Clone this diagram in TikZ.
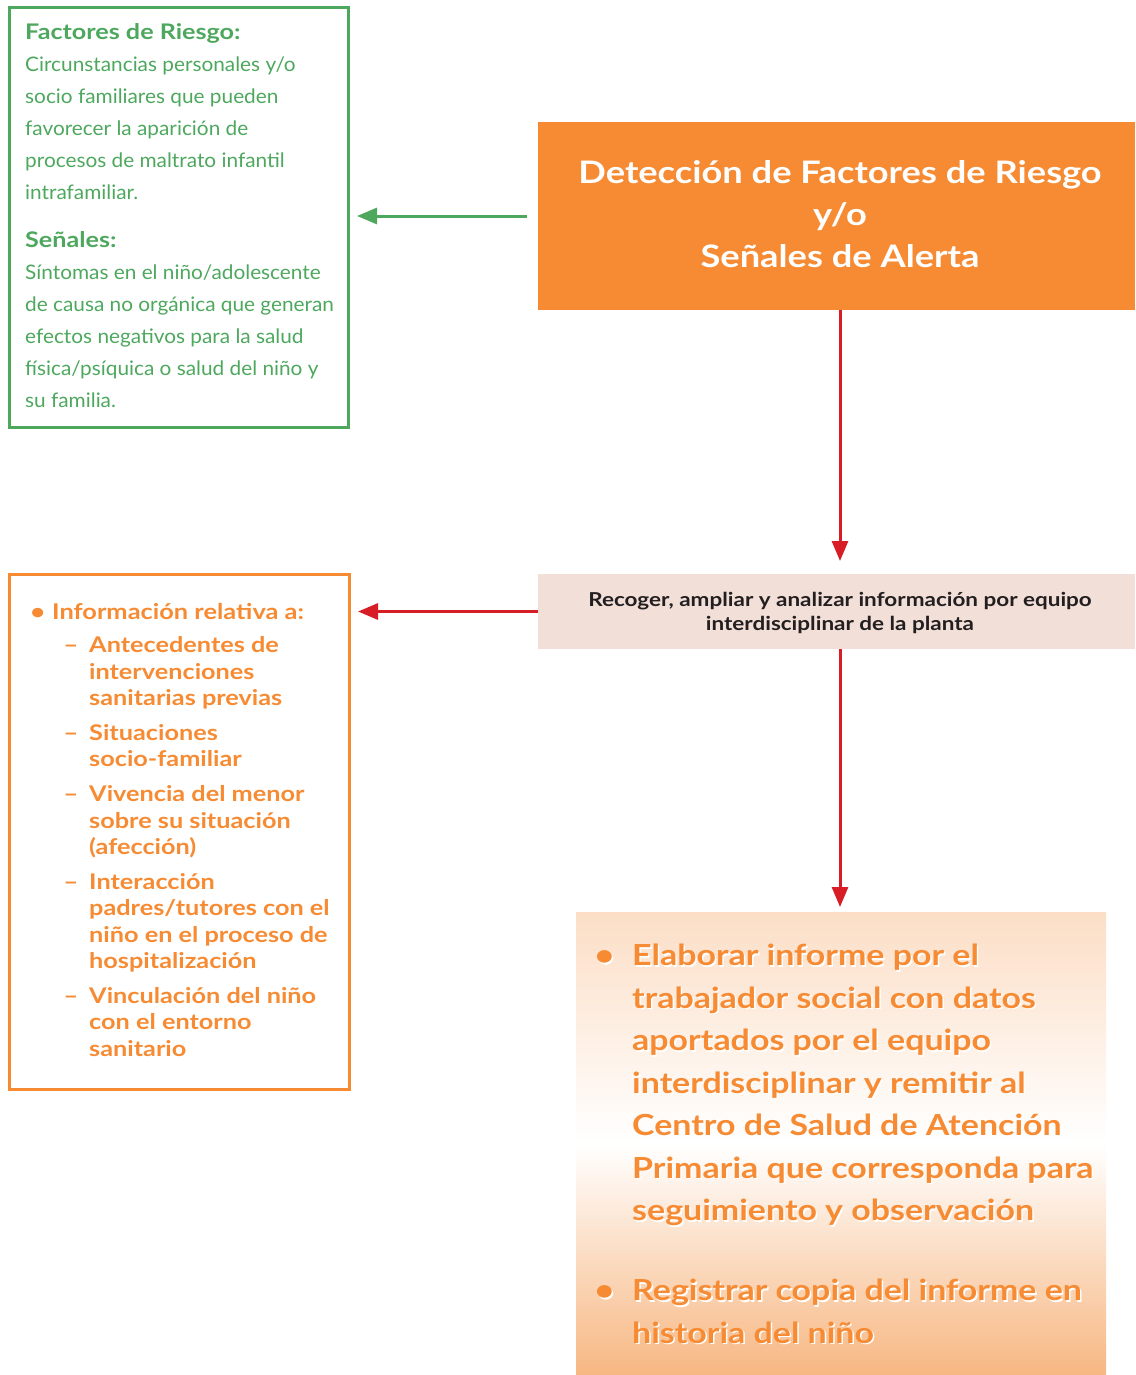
\documentclass[tikz,border=0pt]{standalone}
\usepackage{fontspec}
\setmainfont{Lato}[FakeStretch=1.04, BoldFeatures={FakeStretch=1.17}]
\usetikzlibrary{arrows.meta}
\definecolor{mygreen}{RGB}{77,168,94}
\definecolor{myorange}{RGB}{246,139,51}
\definecolor{myred}{RGB}{215,30,38}
\definecolor{mypink}{RGB}{241,223,216}
\definecolor{mydark}{RGB}{35,31,32}
\definecolor{peachtop}{RGB}{252,222,198}
\definecolor{peachbot}{RGB}{247,183,130}
\newcommand\reportbody{\llap{•\hspace{18pt}}Elaborar informe por el\\trabajador social con datos\\aportados por el equipo\\interdisciplinar y remitir al\\Centro de Salud de Atención\\Primaria que corresponda para\\seguimiento y observación\\[37.5pt]\llap{•\hspace{18pt}}Registrar copia del informe en\\historia del niño}
\newcommand\headfont{\fontsize{21.5}{32}\selectfont\bfseries}
\tikzset{
  box/.style={rectangle, inner sep=0pt, outer sep=0pt, anchor=north west},
  arr/.style={line width=3pt, -{Triangle[length=20pt,width=16pt]}},
  txt/.style={inner sep=0pt, anchor=base west, align=left},
}
\begin{document}
\begin{tikzpicture}[x=1pt,y=-1pt]
\useasboundingbox (0,0) rectangle (1135,1375);
% boxes
\node[box, draw=mygreen, line width=3pt, minimum width=339pt, minimum height=419pt] (risk) at (9,8) {};
\node[box, fill=myorange, minimum width=597pt, minimum height=188pt] (detect) at (538,122) {};
\node[box, fill=mypink, minimum width=597pt, minimum height=75pt] (collect) at (538,574) {};
\node[box, draw=myorange, line width=3pt, minimum width=340pt, minimum height=515pt] (info) at (9,574) {};
\node[box, top color=peachtop, bottom color=peachbot, middle color=white, minimum width=530pt, minimum height=463pt] (report) at (576,912) {};
\coordinate (axis) at (840,0);
% texts (base anchor = baseline of last line)
\node[txt, text=mygreen, font=\fontsize{20}{32}\selectfont] (risktext) at (25,407)
{{\headfont Factores de Riesgo:}\\Circunstancias personales y/o\\socio familiares que pueden\\favorecer la aparición de\\procesos de maltrato infantil\\intrafamiliar.\\[16pt]{\headfont Señales:}\\Síntomas en el niño/adolescente\\de causa no orgánica que generan\\efectos negativos para la salud\\física/psíquica o salud del niño y\\su familia.};
\node[inner sep=0pt, anchor=base, align=center, text=white, font=\fontsize{31}{42}\selectfont\bfseries] (title) at (840,267)
{Detección de Factores de Riesgo\\y/o\\Señales de Alerta};
\node[inner sep=0pt, anchor=base, align=center, text=mydark, font=\fontsize{19.2}{24}\selectfont\bfseries] (collecttext) at (840,630)
{Recoger, ampliar y analizar información por equipo\\interdisciplinar de la planta};
\node[txt, text=myorange, font=\fontsize{21.7}{26}\selectfont\bfseries] (infohead) at (52,619)
{\llap{•\hspace{7pt}}Información relativa a:};
\node[txt, text=myorange, font=\fontsize{21.6}{26.3}\selectfont\bfseries] (infolist) at (89,1056)
{\llap{–\hspace{11pt}}Antecedentes de\\intervenciones\\sanitarias previas\\[8.75pt]\llap{–\hspace{11pt}}Situaciones\\socio-familiar\\[8.75pt]\llap{–\hspace{11pt}}Vivencia del menor\\sobre su situación\\(afección)\\[8.75pt]\llap{–\hspace{11pt}}Interacción\\padres/tutores con el\\niño en el proceso de\\hospitalización\\[8.75pt]\llap{–\hspace{11pt}}Vinculación del niño\\con el entorno\\sanitario};
\node[txt, text=white, font=\fontsize{29}{42.5}\selectfont\bfseries] (reportshadow) at (633.5,1344.5) {\reportbody};
\node[txt, text=myorange, font=\fontsize{29}{42.5}\selectfont\bfseries] (reporttext) at (632,1343) {\reportbody};
% connectors
\draw[arr, mygreen, shorten <=11pt, shorten >=9pt] (detect.west) -- (detect.west -| risk.east);
\draw[arr, myred, shorten >=13pt] (detect.south -| axis) -- (collect.north -| axis);
\draw[arr, myred, shorten >=9pt] (collect.west) -- (collect.west -| info.east);
\draw[arr, myred, shorten >=5pt] (collect.south -| axis) -- (report.north -| axis);
\end{tikzpicture}
\end{document}
